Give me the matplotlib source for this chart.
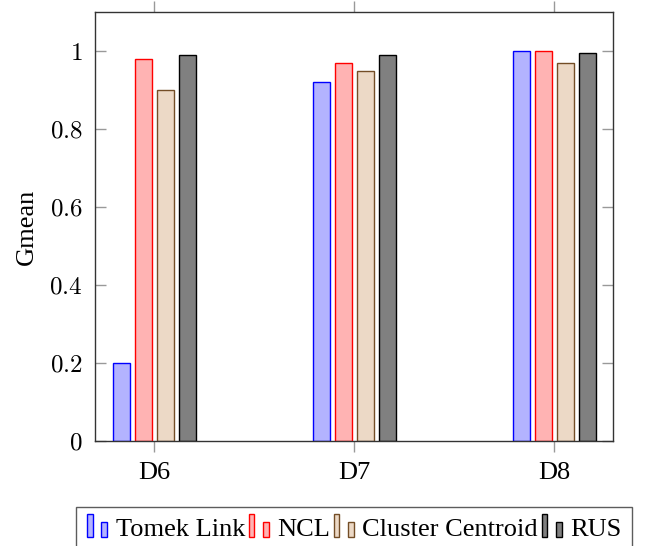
import matplotlib
matplotlib.use("Agg")
import matplotlib.pyplot as plt
from matplotlib.patches import Rectangle
from matplotlib.legend_handler import HandlerBase
import numpy as np

# Data
datasets = ["D6", "D7", "D8"]
methods = ["Tomek Link", "NCL", "Cluster Centroid", "RUS"]
tomek_link = [0.20, 0.92, 1.00]
ncl = [0.98, 0.97, 1.00]
cluster_centroid = [0.90, 0.95, 0.97]
rus = [0.99, 0.99, 0.995]
y_ticks = [0, 0.2, 0.4, 0.6, 0.8, 1.0]
y_tick_labels = ["0", "0.2", "0.4", "0.6", "0.8", "1"]

series = [tomek_link, ncl, cluster_centroid, rus]
fills = ["#b3b3ff", "#ffb3b3", "#ecd9c6", "#808080"]
edges = ["#0000ff", "#ff0000", "#734d26", "#000000"]

plt.rcParams["font.family"] = ["Liberation Serif", "DejaVu Serif"]
plt.rcParams["mathtext.fontset"] = "cm"

fig = plt.figure(figsize=(6.45, 5.46), dpi=100)
ax = fig.add_axes([95 / 645, 105 / 546, 518 / 645, 429 / 546])

x = np.arange(len(datasets))
bar_w = 0.085
step = 0.11
for i, (vals, fc, ec, name) in enumerate(zip(series, fills, edges, methods)):
    ax.bar(x + (i - 1.5) * step, vals, width=bar_w, color=fc, edgecolor=ec,
           linewidth=1.0, label=name, zorder=2)

ax.set_xlim(-0.295, 2.295)
ax.set_ylim(0, 1.1)
ax.set_xticks(x)
ax.set_xticklabels(datasets, fontsize=19)
ax.set_yticks(y_ticks)
ax.set_yticklabels(["$%s$" % t for t in y_tick_labels], fontsize=18)
ax.set_ylabel("Gmean", fontsize=19, labelpad=8)

ax.tick_params(axis="y", direction="in", length=8, width=1, color="#999999",
               left=True, right=True, pad=9)
ax.tick_params(axis="x", direction="out", length=8, width=1, color="#999999",
               bottom=True, top=True, pad=7)
for s in ax.spines.values():
    s.set_color("#333333")
    s.set_linewidth(1.0)


class TwoBarHandler(HandlerBase):
    def create_artists(self, legend, orig_handle, xdescent, ydescent, width,
                       height, fontsize, trans):
        fc = orig_handle.get_facecolor()
        ec = orig_handle.get_edgecolor()
        bw = width * 0.24
        r1 = Rectangle((-xdescent + width * 0.02, -ydescent - 1), bw, height * 1.25,
                       facecolor=fc, edgecolor=ec, linewidth=1.0, transform=trans)
        r2 = Rectangle((-xdescent + width * 0.62, -ydescent - 1), bw, height * 0.85,
                       facecolor=fc, edgecolor=ec, linewidth=1.0, transform=trans)
        return [r1, r2]


handles = [Rectangle((0, 0), 1, 1, facecolor=fc, edgecolor=ec)
           for fc, ec in zip(fills, edges)]
leg = fig.legend(handles, methods, loc="upper center",
                 bbox_to_anchor=(354 / 645, 1 - 507 / 546), ncol=4,
                 fontsize=19, frameon=True, fancybox=False, borderpad=0.4,
                 borderaxespad=0.0,
                 handlelength=0.9, handletextpad=0.2, columnspacing=0.12,
                 handler_map={Rectangle: TwoBarHandler()})
leg.get_frame().set_edgecolor("#333333")
leg.get_frame().set_linewidth(1.0)

fig.savefig("out.png", dpi=100)
